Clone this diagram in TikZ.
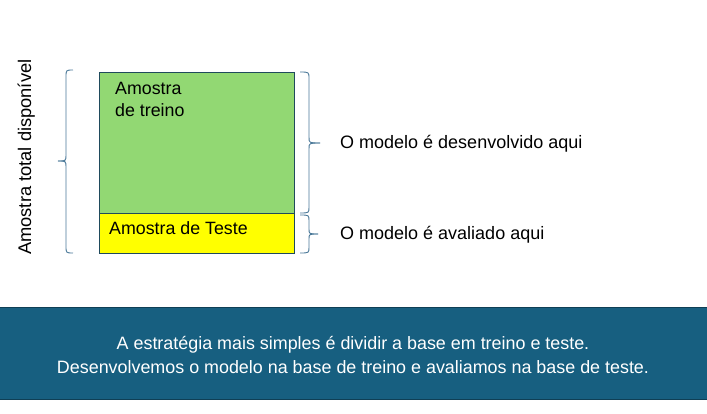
\documentclass[tikz,border=0pt]{standalone}
\usepackage{fontspec}
\setmainfont{Liberation Sans}
\begin{document}
\begin{tikzpicture}[x=1pt,y=-1pt,
  bracestyle/.style={draw=braceblue, line width=0.9pt},
  lbl/.style={inner sep=0pt, anchor=base west, font=\fontsize{18}{22}\selectfont},
  boxlbl/.style={inner sep=0pt, anchor=base west, font=\fontsize{17.8}{22}\selectfont}]
\definecolor{braceblue}{HTML}{4A7898}
\definecolor{boxedge}{HTML}{1F4A5C}
\definecolor{trgreen}{HTML}{92D873}
\definecolor{tsyellow}{HTML}{FFFF00}
\definecolor{band}{HTML}{175F80}
\definecolor{bandedge}{HTML}{0F3F55}
\useasboundingbox (0,0) rectangle (707,414);
% boxes
\node[draw=boxedge, line width=1pt, fill=trgreen, minimum width=195pt, minimum height=141pt, anchor=north west, inner sep=0pt] (train) at (99,72) {};
\node[draw=boxedge, line width=1pt, fill=tsyellow, minimum width=195pt, minimum height=40pt, anchor=north west, inner sep=0pt] (test) at (99,213) {};
\node[boxlbl] (trainlbl) at (115,95) {Amostra};
\node[boxlbl] (trainlbl2) at (115,117) {de treino};
\node[boxlbl] (testlbl) at (109,235) {Amostra de Teste};
% left brace
\draw[bracestyle] (73,70) .. controls (66,70) .. (66,77) -- (66,155) .. controls (66,161) .. (58,161);
\draw[bracestyle] (58,161) .. controls (66,161) .. (66,167) -- (66,246) .. controls (66,253) .. (73,253);
\node[rotate=90, inner sep=0pt, anchor=base west, font=\fontsize{18.3}{22}\selectfont] (total) at (31,255) {Amostra total disponível};
% right braces
\draw[bracestyle] (300,72) .. controls (309,72) .. (309,79) -- (309,137) .. controls (309,143) .. (320,143);
\draw[bracestyle] (320,143) .. controls (309,143) .. (309,149) -- (309,207) .. controls (309,213) .. (300,213);
\draw[bracestyle] (300,215) .. controls (309,215) .. (309,221) -- (309,229) .. controls (309,234) .. (318,234);
\draw[bracestyle] (318,234) .. controls (309,234) .. (309,239) -- (309,247) .. controls (309,253) .. (300,253);
\node[lbl] (dev) at (340,149) {O modelo é desenvolvido aqui};
\node[lbl] (eval) at (340,240) {O modelo é avaliado aqui};
% band
\fill[band] (0,307) rectangle (707,400);
\draw[bandedge, line width=1pt] (0,307.5) -- (707,307.5);
\draw[bandedge, line width=1pt] (0,399.5) -- (707,399.5);
\node[text=white, inner sep=0pt, anchor=base, font=\fontsize{17.9}{22}\selectfont] (note1) at (353,349) {A estratégia mais simples é dividir a base em treino e teste.};
\node[text=white, inner sep=0pt, anchor=base, font=\fontsize{17.9}{22}\selectfont] (note2) at (353,373) {Desenvolvemos o modelo na base de treino e avaliamos na base de teste.};
\end{tikzpicture}
\end{document}
